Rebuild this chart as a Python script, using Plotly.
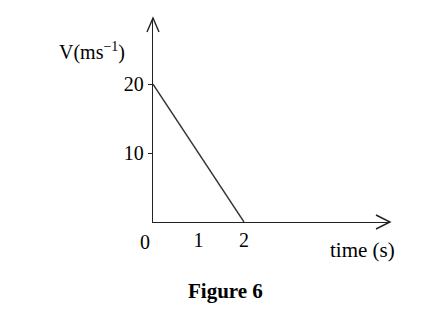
import plotly.graph_objects as go

time_s = [0, 2]
velocity = [20, 0]
x_ticks = [1, 2]
y_ticks = [10, 20]
x_max = 5.21
y_max = 29.6

FONT = "Liberation Serif"
AX = "#222222"
TS = 20

fig = go.Figure()
fig.add_trace(go.Scatter(x=time_s, y=velocity, mode="lines",
                         line=dict(color="#333333", width=1.4),
                         hoverinfo="skip", showlegend=False, cliponaxis=False))

fig.update_layout(
    width=446, height=315,
    margin=dict(l=153, r=446 - 153 - 237, t=18, b=93),
    paper_bgcolor="white", plot_bgcolor="white",
    font=dict(family=FONT, size=TS, color="black"),
    xaxis=dict(range=[0, x_max], showgrid=False, zeroline=False,
               showline=True, linecolor=AX, linewidth=1.4,
               tickvals=x_ticks, ticktext=[str(v) for v in x_ticks], ticks="",
               tickfont=dict(family=FONT, size=TS), fixedrange=True),
    yaxis=dict(range=[0, y_max], showgrid=False, zeroline=False,
               showline=True, linecolor=AX, linewidth=1.4,
               tickvals=y_ticks, ticktext=[str(v) for v in y_ticks],
               ticks="outside", ticklen=4, tickcolor=AX, tickwidth=1,
               tickfont=dict(family=FONT, size=TS), fixedrange=True),
)

# open arrowheads at the ends of the axes (paper refs so they are not clipped)
fig.add_shape(type="path", xref="paper", yref="paper", xsizemode="pixel", ysizemode="pixel",
              xanchor=1, yanchor=0, path="M -14 7 L 0 0 L -14 -7",
              line=dict(color=AX, width=1.4))
fig.add_shape(type="path", xref="paper", yref="paper", xsizemode="pixel", ysizemode="pixel",
              xanchor=0, yanchor=1, path="M -6 -14 L 0 0 L 6 -14",
              line=dict(color=AX, width=1.4))

fig.add_annotation(x=0, y=0, xref="paper", yref="paper", text="0", showarrow=False,
                   xanchor="center", yanchor="middle",
                   xshift=-8, yshift=-20, font=dict(family=FONT, size=TS))
fig.add_annotation(x=-0.257, y=0.838, xref="paper", yref="paper", text="V(ms<sup>−1</sup>)",
                   showarrow=False, xanchor="center", yanchor="middle",
                   font=dict(family=FONT, size=20))
fig.add_annotation(x=0.886, y=-0.137, xref="paper", yref="paper", text="time (s)",
                   showarrow=False, xanchor="center", yanchor="middle",
                   font=dict(family=FONT, size=21))
fig.add_annotation(x=0.308, y=-0.338, xref="paper", yref="paper",
                   text="<b>Figure 6</b>", showarrow=False, xanchor="center", yanchor="middle",
                   font=dict(family=FONT, size=21))

fig.write_html("out.html")
